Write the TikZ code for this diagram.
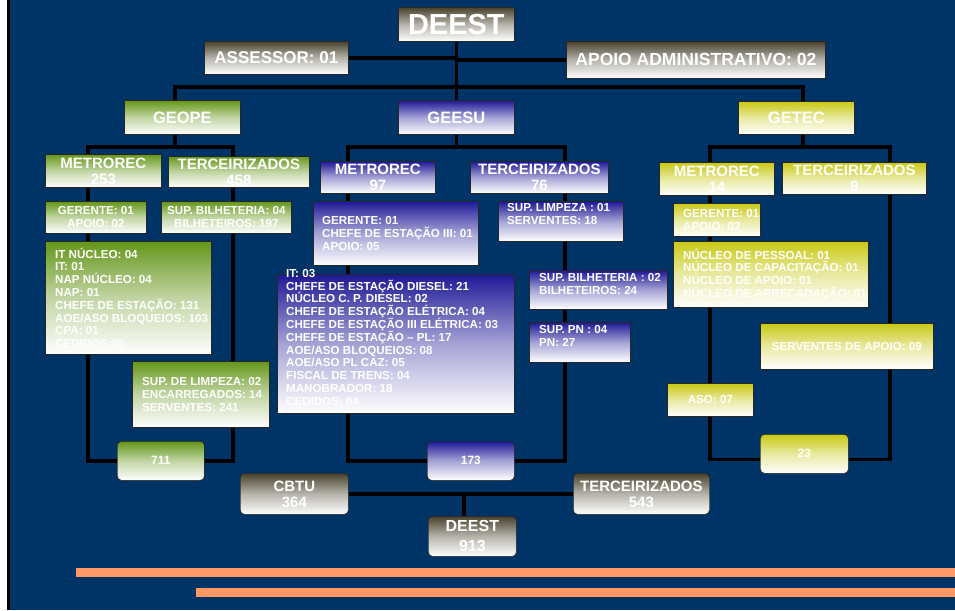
\documentclass[tikz,border=0pt]{standalone}
\usepackage{fontspec}
\setmainfont{Liberation Sans}
\usetikzlibrary{positioning,backgrounds}

\definecolor{navy}{RGB}{0,51,102}
\definecolor{headgray}{RGB}{72,66,44}
\definecolor{geogreen}{RGB}{100,150,25}
\definecolor{geeblue}{RGB}{30,25,150}
\definecolor{getyellow}{RGB}{200,200,20}
\definecolor{stripe}{RGB}{255,153,102}

\newcommand\hdfont{\fontsize{15}{16}\selectfont\bfseries}
\newcommand\lsfont{\fontsize{11.6}{12.8}\selectfont\bfseries}
\newcommand\nmfont{\fontsize{12}{13}\selectfont\bfseries}

\tikzset{
  box/.style={draw=black!85, line width=0.7pt, inner sep=0pt, anchor=north west,
    text=white, align=center},
  wh/.style args={#1/#2}{minimum width=#1pt, minimum height=#2pt},
  fade/.style={top color=#1, bottom color=white, middle color=#1!40!white},
  graybox/.style={box, fade=headgray},
  greenbox/.style={box, fade=geogreen},
  bluebox/.style={box, fade=geeblue},
  yellowbox/.style={box, fade=getyellow},
  total/.style={rounded corners=4pt},
  lst/.style={anchor=west, align=left, inner sep=0pt, text=white, font=\lsfont},
  wire/.style={line width=3.6pt, black},
}

\begin{document}
\begin{tikzpicture}[x=1pt,y=-1pt]
\useasboundingbox (0,0) rectangle (955,610);

% top
\node[graybox, wh=116/34, font=\fontsize{29}{30}\selectfont\bfseries] (deest) at (398,7) {DEEST};
\node[graybox, wh=144/33, font=\fontsize{17}{18}\selectfont\bfseries] (assessor) at (204,41) {ASSESSOR: 01};
\node[graybox, wh=259/37, font=\fontsize{17.5}{18}\selectfont\bfseries] (apoio) at (566,41) {APOIO ADMINISTRATIVO: 02};

\node[greenbox, wh=116/34, font=\fontsize{16.5}{18}\selectfont\bfseries] (geope) at (124,100) {GEOPE};
\node[bluebox, wh=116/34, font=\fontsize{16.5}{18}\selectfont\bfseries] (geesu) at (398,100) {GEESU};
\node[yellowbox, wh=116/33, font=\fontsize{16.5}{18}\selectfont\bfseries] (getec) at (738,101) {GETEC};

% GEOPE
\node[greenbox, wh=116/33, font=\hdfont] (gmet) at (45,154) {METROREC\\253};
\node[greenbox, wh=141/31, font=\hdfont] (gter) at (168,156) {TERCEIRIZADOS\\458};
\node[greenbox, wh=101/32, font=\lsfont] (gger) at (45,201) {GERENTE: 01\\APOIO: 02};
\node[greenbox, wh=130/32, font=\lsfont] (gbil) at (161,201) {SUP. BILHETERIA: 04\\BILHETEIROS: 197};
\node[greenbox, wh=166/113] (gnuc) at (45,241) {};
\node[lst, right=10pt of gnuc.west] (gnuc-t) {IT NÚCLEO: 04\\IT: 01\\NAP NÚCLEO: 04\\NAP: 01\\CHEFE DE ESTAÇÃO: 131\\AOE/ASO BLOQUEIOS: 103\\CPA: 01\\CEDIDOS:05};
\node[greenbox, wh=137/66] (glim) at (132,361) {};
\node[lst, right=10pt of glim.west] (glim-t) {SUP. DE LIMPEZA: 02\\ENCARREGADOS: 14\\SERVENTES: 241};
\node[greenbox, total, wh=87/39, font=\nmfont] (g711) at (117,441) {711};

% GEESU
\node[bluebox, wh=115/32, font=\hdfont] (smet) at (320,161) {METROREC\\97};
\node[bluebox, wh=138/32, font=\hdfont] (ster) at (470,161) {TERCEIRIZADOS\\76};
\node[bluebox, wh=165/64] (sger) at (313,201) {};
\node[lst, right=9pt of sger.west] (sger-t) {GERENTE: 01\\CHEFE DE ESTAÇÃO III: 01\\APOIO: 05};
\node[bluebox, wh=237/139] (sche) at (277,274) {};
\node[lst, right=9pt of sche.west, yshift=6.5pt] (sche-t) {IT: 03\\CHEFE DE ESTAÇÃO DIESEL: 21\\NÚCLEO C. P. DIESEL: 02\\CHEFE DE ESTAÇÃO ELÉTRICA: 04\\CHEFE DE ESTAÇÃO III ELÉTRICA: 03\\CHEFE DE ESTAÇÃO – PL: 17\\AOE/ASO BLOQUEIOS: 08\\AOE/ASO PL CAZ: 05\\FISCAL DE TRENS: 04\\MANOBRADOR: 18\\CEDIDOS: 04};
\node[bluebox, wh=125/40] (slim) at (498,201) {};
\node[lst, right=9pt of slim.west, yshift=7pt] (slim-t) {SUP. LIMPEZA : 01\\SERVENTES: 18};
\node[bluebox, wh=138/39] (sbil) at (529,270) {};
\node[lst, right=10pt of sbil.west, yshift=6pt] (sbil-t) {SUP. BILHETERIA : 02\\BILHETEIROS: 24};
\node[bluebox, wh=101/40] (spn) at (529,322) {};
\node[lst, right=10pt of spn.west, yshift=6.5pt] (spn-t) {SUP. PN : 04\\PN: 27};
\node[bluebox, total, wh=87/39, font=\nmfont] (s173) at (427,441) {173};

% GETEC
\node[yellowbox, wh=115/33, font=\hdfont] (tmet) at (659,162) {METROREC\\14};
\node[yellowbox, wh=144/32, font=\hdfont] (tter) at (782,162) {TERCEIRIZADOS\\9};
\node[yellowbox, wh=87/33] (tger) at (673,203) {};
\node[lst, right=10pt of tger.west] (tger-t) {GERENTE: 01\\APOIO: 02};
\node[yellowbox, wh=195/66] (tnuc) at (673,241) {};
\node[lst, right=10pt of tnuc.west] (tnuc-t) {NÚCLEO DE PESSOAL: 01\\NÚCLEO DE CAPACITAÇÃO: 01\\NÚCLEO DE APOIO: 01\\NÚCLEO DE ARRECADAÇÃO: 01};
\node[yellowbox, wh=173/46, font=\lsfont] (tser) at (760,323) {SERVENTES DE APOIO: 09};
\node[yellowbox, wh=86/33, font=\lsfont] (taso) at (667,383) {ASO: 07};
\node[yellowbox, total, wh=88/39, font=\nmfont] (t23) at (760,434) {23};

% totals
\node[graybox, total, wh=108/41, font=\hdfont] (cbtu) at (240,473) {CBTU\\364};
\node[graybox, total, wh=136/41, font=\hdfont] (tot) at (573,473) {TERCEIRIZADOS\\543};
\node[graybox, total, wh=88/40, font=\fontsize{16}{20}\selectfont\bfseries] (deestb) at (428,516) {DEEST\\913};

\fill[stripe] (76,568) rectangle (955,577);
\fill[stripe] (196,588) rectangle (955,597);

\coordinate (topbus) at (457,87);
\coordinate (gtop) at (175,147);
\coordinate (gL) at (88,147);
\coordinate (gR) at (233,147);
\coordinate (sL) at (348,147);
\coordinate (sR) at (565,147);
\coordinate (ttop) at (803,147);
\coordinate (tL) at (710,147);
\coordinate (tR) at (890,147);
\coordinate (jn) at (464,494);

\begin{pgfonlayer}{background}
  \fill[white] (0,0) rectangle (7,610);
  \fill[black] (7,0) rectangle (10,610);
  \fill[navy] (10,0) rectangle (955,610);
  % links
  \draw[wire] (deest.south) -- (geesu.north);
  \draw[wire] (assessor.east) -- (assessor.east -| deest.south);
  \draw[wire] (apoio.west) -- (apoio.west -| deest.south);
  \draw[wire] (geope.north -| gtop) |- (topbus) -| (getec.north -| ttop);
  \draw[wire] (geope.south -| gtop) -- (gtop);
  \draw[wire] (g711.west) -| (gL) -- (gR) |- (g711.east);
  \draw[wire] (geesu.south) -- (geesu.south |- sL);
  \draw[wire] (s173.west) -| (sL) -- (sR) |- (s173.east);
  \draw[wire] (getec.south -| ttop) -- (ttop);
  \draw[wire] ([yshift=-5.5pt]t23.west) -| (tL) -- (tR) |- ([yshift=-5.5pt]t23.east);
  \draw[wire] (cbtu.east) -- (tot.west);
  \draw[wire] (deestb.north -| jn) -- (jn);
\end{pgfonlayer}
\end{tikzpicture}
\end{document}
